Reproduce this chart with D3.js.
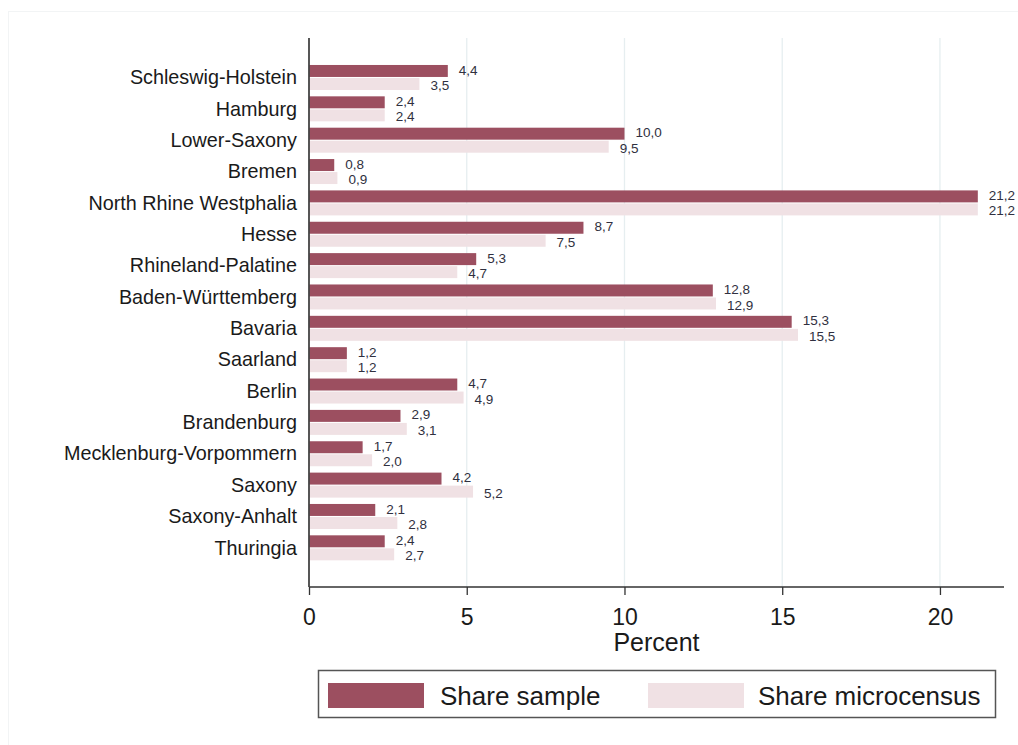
<!DOCTYPE html>
<html><head><meta charset="utf-8">
<script src="https://cdn.jsdelivr.net/npm/d3@7/dist/d3.min.js"></script>
<style>body{margin:0;background:#fff}svg{display:block;font-family:"Liberation Sans",Arial,sans-serif}</style>
</head><body><svg id="c" width="1018" height="745"></svg>
<script>
const categories = ["Schleswig-Holstein","Hamburg","Lower-Saxony","Bremen","North Rhine Westphalia","Hesse","Rhineland-Palatine","Baden-Württemberg","Bavaria","Saarland","Berlin","Brandenburg","Mecklenburg-Vorpommern","Saxony","Saxony-Anhalt","Thuringia"];
const shareSample = [4.4,2.4,10.0,0.8,21.2,8.7,5.3,12.8,15.3,1.2,4.7,2.9,1.7,4.2,2.1,2.4];
const shareMicrocensus = [3.5,2.4,9.5,0.9,21.2,7.5,4.7,12.9,15.5,1.2,4.9,3.1,2.0,5.2,2.8,2.7];
const seriesNames = ["Share sample","Share microcensus"];
const xTicks = [0,5,10,15,20];
const colors = ["#9c4f60","#f0e1e4"];

const svg = d3.select("#c");
const pL = 309, pR = 1004, pT = 38, pB = 587;
const x = d3.scaleLinear().domain([0,22.03]).range([pL,pR]);
const y = d3.scaleBand().domain(categories).range([62.3,564]).paddingInner(0).paddingOuter(0);
const yIn = d3.scaleBand().domain([0,1]).range([y.bandwidth()/2-13, y.bandwidth()/2+12]).paddingInner(0.08);
const fmt = v => d3.format(".1f")(v).replace(".", ",");
const labelShift = [0, 2.5];

svg.append("rect").attr("x",8.5).attr("y",11.5).attr("width",1030).attr("height",760).attr("fill","none").attr("stroke","#f2f4f5");

svg.append("g").selectAll("line").data(xTicks.filter(t=>t>0)).join("line")
  .attr("x1",d=>x(d)).attr("x2",d=>x(d)).attr("y1",pT).attr("y2",pB)
  .attr("stroke","#e6eef0").attr("stroke-width",1.3);

const data = [shareSample, shareMicrocensus];
const g = svg.append("g");
categories.forEach((c,i)=>{
  data.forEach((arr,s)=>{
    const v = arr[i];
    const yy = y(c)+yIn(s);
    g.append("rect").attr("x",x(0)).attr("y",yy).attr("width",x(v)-x(0)).attr("height",yIn.bandwidth()).attr("fill",colors[s]);
    g.append("text").attr("x",x(v)+11).attr("y",yy+yIn.bandwidth()/2+labelShift[s]).attr("dominant-baseline","middle")
      .attr("font-size",13.5).attr("fill","#303040").text(fmt(v));
  });
  g.append("text").attr("x",297).attr("y",y(c)+y.bandwidth()/2+1).attr("dominant-baseline","middle").attr("text-anchor","end")
    .attr("font-size",19.8).attr("fill","#1a1a1a").text(c);
});

const xAxis = svg.append("g").attr("transform",`translate(0,${pB})`)
  .call(d3.axisBottom(x).tickValues(xTicks).tickSize(8).tickPadding(14).tickFormat(d3.format("d")));
xAxis.select(".domain").remove();
xAxis.selectAll("line").attr("stroke","#333").attr("stroke-width",1.3);
xAxis.selectAll("text").attr("font-size",23).attr("fill","#1a1a1a").attr("font-family","'Liberation Sans',Arial,sans-serif");
svg.append("line").attr("x1",pL).attr("x2",pR).attr("y1",pB).attr("y2",pB).attr("stroke","#333").attr("stroke-width",1.5);
svg.append("line").attr("x1",pL).attr("x2",pL).attr("y1",pT).attr("y2",pB).attr("stroke","#444").attr("stroke-width",1.8);

svg.append("text").attr("x",(pL+pR)/2).attr("y",651).attr("text-anchor","middle").attr("font-size",25).attr("fill","#1a1a1a").text("Percent");

const lg = svg.append("g");
lg.append("rect").attr("x",318.5).attr("y",670.5).attr("width",677).attr("height",47).attr("fill","#fff").attr("stroke","#555").attr("stroke-width",1.5);
const legX = [[328,440],[648,758]];
seriesNames.forEach((n,s)=>{
  lg.append("rect").attr("x",legX[s][0]).attr("y",683).attr("width",96).attr("height",25).attr("fill",colors[s]);
  lg.append("text").attr("x",legX[s][1]).attr("y",705).attr("font-size",26).attr("fill","#1a1a1a").text(n);
});
</script></body></html>
